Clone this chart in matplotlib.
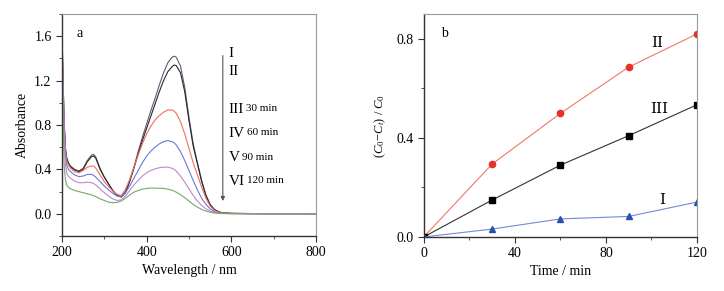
import matplotlib
matplotlib.use("Agg")
import matplotlib.pyplot as plt
from matplotlib.ticker import MultipleLocator

plt.rcParams["font.family"] = ["Liberation Serif", "DejaVu Serif"]
plt.rcParams["mathtext.fontset"] = "custom"
plt.rcParams["mathtext.rm"] = "Liberation Serif"
plt.rcParams["mathtext.it"] = "Liberation Serif:italic"

# panel a: UV-vis spectra
wavelength = [200, 202, 205, 208, 211, 215, 220, 230, 240, 250, 260, 270, 275, 280, 290, 300, 310,
              320, 330, 340, 350, 360, 370, 380, 390, 400, 410, 420, 430, 440, 450, 460, 465, 470,
              480, 490, 500, 510, 520, 530, 540, 550, 560, 570, 580, 600, 650, 700, 800]
abs_1 = [1.65, 1.30, 0.85, 0.60, 0.51, 0.46, 0.43, 0.40, 0.385, 0.41, 0.48, 0.53, 0.535, 0.51, 0.41, 0.33, 0.27,
         0.21, 0.165, 0.155, 0.20, 0.30, 0.42, 0.56, 0.69, 0.81, 0.93, 1.04, 1.16, 1.27, 1.36, 1.41, 1.42, 1.41,
         1.33, 1.14, 0.87, 0.63, 0.46, 0.30, 0.17, 0.085, 0.04, 0.018, 0.009, 0.004, 0.002, 0.001, 0.0]
abs_2 = [1.63, 1.28, 0.84, 0.59, 0.50, 0.455, 0.425, 0.395, 0.38, 0.40, 0.47, 0.515, 0.52, 0.50, 0.40, 0.33, 0.27,
         0.21, 0.165, 0.15, 0.19, 0.29, 0.41, 0.54, 0.66, 0.77, 0.88, 0.99, 1.10, 1.20, 1.28, 1.325, 1.34, 1.335,
         1.27, 1.10, 0.84, 0.61, 0.45, 0.29, 0.165, 0.08, 0.038, 0.017, 0.008, 0.004, 0.002, 0.001, 0.0]
abs_3 = [1.68, 1.30, 0.83, 0.57, 0.48, 0.44, 0.41, 0.38, 0.37, 0.39, 0.42, 0.43, 0.43, 0.41, 0.35, 0.29, 0.245,
         0.205, 0.175, 0.165, 0.22, 0.31, 0.42, 0.53, 0.63, 0.72, 0.79, 0.845, 0.885, 0.915, 0.935, 0.935, 0.925, 0.905,
         0.83, 0.72, 0.59, 0.46, 0.35, 0.24, 0.14, 0.07, 0.032, 0.014, 0.007, 0.003, 0.001, 0.0, 0.0]
abs_4 = [1.62, 1.25, 0.78, 0.52, 0.44, 0.40, 0.38, 0.35, 0.335, 0.34, 0.355, 0.355, 0.345, 0.33, 0.29, 0.25, 0.215,
         0.185, 0.16, 0.155, 0.19, 0.25, 0.32, 0.39, 0.46, 0.52, 0.565, 0.60, 0.63, 0.65, 0.66, 0.65, 0.64, 0.62,
         0.56, 0.48, 0.39, 0.30, 0.215, 0.14, 0.085, 0.045, 0.02, 0.01, 0.005, 0.002, 0.001, 0.0, 0.0]
abs_5 = [1.60, 1.20, 0.72, 0.45, 0.37, 0.34, 0.32, 0.295, 0.28, 0.28, 0.285, 0.28, 0.272, 0.26, 0.225, 0.19, 0.16,
         0.135, 0.12, 0.125, 0.16, 0.21, 0.26, 0.30, 0.34, 0.37, 0.39, 0.405, 0.415, 0.42, 0.42, 0.41, 0.40, 0.385,
         0.34, 0.285, 0.225, 0.165, 0.115, 0.075, 0.045, 0.025, 0.012, 0.006, 0.003, 0.001, 0.0, 0.0, 0.0]
abs_6 = [1.50, 1.00, 0.45, 0.31, 0.26, 0.24, 0.225, 0.21, 0.20, 0.19, 0.18, 0.17, 0.163, 0.155, 0.135, 0.12, 0.105,
         0.10, 0.102, 0.115, 0.14, 0.17, 0.195, 0.21, 0.222, 0.228, 0.232, 0.232, 0.23, 0.228, 0.222, 0.212, 0.204, 0.195,
         0.172, 0.145, 0.115, 0.085, 0.06, 0.04, 0.025, 0.014, 0.007, 0.004, 0.002, 0.001, 0.0, 0.0, 0.0]
spectra = [abs_1, abs_2, abs_3, abs_4, abs_5, abs_6]
spectra_colors = ["#5c5a78", "#2a2a2a", "#f0705a", "#6a78d8", "#c088cc", "#78a868"]
numerals = ["I", "II", "III", "IV", "V", "VI"]
times_text = ["", "", "30 min", "60 min", "90 min", "120 min"]
label_y = [1.44, 1.28, 0.94, 0.725, 0.505, 0.29]

# panel b: degradation ratio
time_min = [0, 30, 60, 90, 120]
ratio_1 = [0.0, 0.032, 0.073, 0.083, 0.141]
ratio_2 = [0.0, 0.294, 0.499, 0.686, 0.82]
ratio_3 = [0.0, 0.149, 0.29, 0.409, 0.534]


def style_axes(ax):
    for side in ["top", "right"]:
        ax.spines[side].set_color("#9a9a9a")
        ax.spines[side].set_linewidth(0.8)
    for side in ["left", "bottom"]:
        ax.spines[side].set_color("#333333")
        ax.spines[side].set_linewidth(1.0)
    ax.tick_params(which="both", direction="out", top=False, right=False, labelsize=10, colors="#333333",
                   labelcolor="black")
    ax.tick_params(which="major", length=4)
    ax.tick_params(which="minor", length=2.5)


fig = plt.figure(figsize=(7.24, 2.91), dpi=100)

# spectra
ax1 = fig.add_axes([0.0856, 0.189, 0.3508, 0.763])
for values, color in zip(spectra, spectra_colors):
    ax1.plot(wavelength, values, color=color, lw=0.8)
ax1.set_xlim(200, 800)
ax1.set_ylim(-0.2, 1.8)
ax1.xaxis.set_major_locator(MultipleLocator(200))
ax1.xaxis.set_minor_locator(MultipleLocator(100))
ax1.yaxis.set_major_locator(MultipleLocator(0.4))
ax1.yaxis.set_minor_locator(MultipleLocator(0.2))
ax1.set_xlabel("Wavelength / nm", fontsize=10, labelpad=3)
ax1.set_ylabel("Absorbance", fontsize=10, labelpad=4)
style_axes(ax1)
ax1.text(0.058, 0.913, "a", transform=ax1.transAxes, fontsize=10, va="center")
ax1.annotate("", xy=(580, 0.09), xytext=(580, 1.45),
             arrowprops=dict(arrowstyle="-|>", color="#555555", lw=0.8, mutation_scale=6))
for num, txt, y in zip(numerals, times_text, label_y):
    t = ax1.text(593, y, num, fontsize=11, va="center", ha="left")
    if txt:
        ax1.annotate(txt, xy=(1, 0.55), xycoords=t, xytext=(2, 0), textcoords="offset points",
                     fontsize=8, va="center", ha="left")

# kinetics
ax2 = fig.add_axes([0.5852, 0.1856, 0.3775, 0.766])
ax2.plot(time_min, ratio_2, color="#f07868", lw=0.8, marker="o", ms=4.5,
         mfc="#e8302a", mec="#e8302a")
ax2.plot(time_min, ratio_3, color="#333333", lw=0.8, marker="s", ms=4,
         mfc="black", mec="black")
ax2.plot(time_min, ratio_1, color="#7888d8", lw=0.8, marker="^", ms=4.5,
         mfc="#2850b0", mec="#2850b0")
ax2.set_xlim(0, 120)
ax2.set_ylim(0, 0.9)
ax2.xaxis.set_major_locator(MultipleLocator(40))
ax2.xaxis.set_minor_locator(MultipleLocator(20))
ax2.yaxis.set_major_locator(MultipleLocator(0.4))
ax2.yaxis.set_minor_locator(MultipleLocator(0.2))
ax2.set_xlabel("Time / min", fontsize=10, labelpad=3)
ax2.set_ylabel(r"$(C_0\!-\!C_t)\ /\ C_0$", fontsize=9, labelpad=6)
style_axes(ax2)
ax2.text(0.064, 0.913, "b", transform=ax2.transAxes, fontsize=10, va="center")
ax2.text(102.4, 0.784, "II", fontsize=11, ha="center", va="center", family=["DejaVu Serif"])
ax2.text(103.2, 0.517, "III", fontsize=11, ha="center", va="center", family=["DejaVu Serif"])
ax2.text(104.6, 0.149, "I", fontsize=11, ha="center", va="center", family=["DejaVu Serif"])

fig.savefig("out.png", dpi=100)
